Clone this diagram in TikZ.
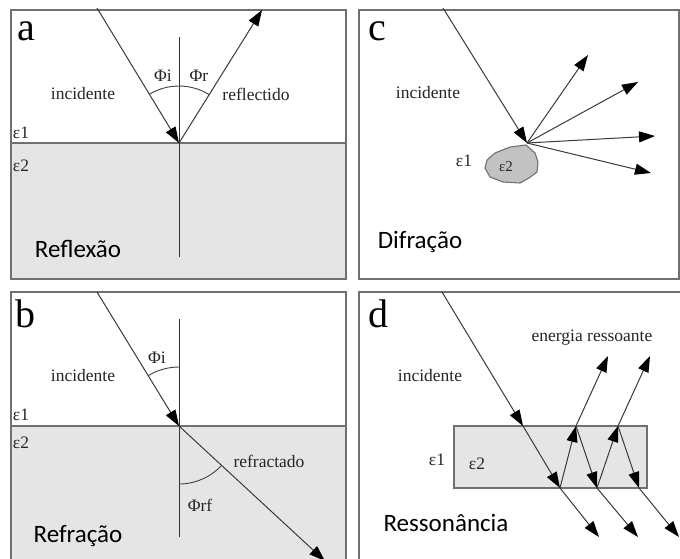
\documentclass[tikz,border=0pt]{standalone}
\usepackage{fontspec}
\setmainfont{Liberation Serif}
\newfontfamily\capfont{Carlito}
\usetikzlibrary{arrows.meta}
\definecolor{panelgray}{HTML}{707070}
\definecolor{raygray}{HTML}{3A3A3A}
\definecolor{mediumfill}{HTML}{E5E5E5}
\definecolor{blobfill}{HTML}{C2C2C2}
\definecolor{labelgray}{HTML}{262626}
\begin{document}
\begin{tikzpicture}[x=1pt,y=-1pt,
  panel/.style={draw=panelgray, line width=1.4pt},
  ray/.style={draw=raygray, line width=1pt, -{Triangle[length=16pt,width=11pt,color=black]}},
  normal/.style={draw=black!80, line width=0.9pt},
  anglearc/.style={draw=black!75, line width=0.9pt},
  lbl/.style={font=\fontsize{17.5}{20}\selectfont, text=labelgray, inner sep=0pt},
  letter/.style={font=\fontsize{40}{42}\selectfont, inner sep=0pt},
  caption/.style={font=\capfont\fontsize{25}{28}\selectfont, inner sep=0pt},
]
\useasboundingbox (0,0) rectangle (680,558);
\clip (0,0) rectangle (680,558);
\fill[white] (0,0) rectangle (680,558);

% ---------- panel a: reflection ----------
\fill[mediumfill] (11,143) rectangle (346,279);
\draw[panel] (11,10) rectangle (346,279);
\coordinate (aP) at (179,143);
\coordinate (aL) at (11,143);
\coordinate (aR) at (346,143);
\coordinate (aNt) at (179,37);
\coordinate (aNb) at (179,257);
\coordinate (aIn) at (97,8);
\coordinate (aOut) at (262,10);
\draw[panelgray, line width=1.2pt] (aL) -- (aR);
\draw[normal] (aNt) -- (aNb);
\draw[ray] (aIn) -- (aP);
\draw[ray] (aP) -- (aOut);
\draw[anglearc] ([shift={(-121.5:57)}]aP) arc[start angle=-121.5, end angle=-58.2, radius=57];
\node[letter] (la) at (26,31) {a};
\node[lbl] (aphi) at (163,76) {Φi};
\node[lbl] (aphr) at (199,76) {Φr};
\node[lbl] (ainc) at (83,94) {incidente};
\node[lbl] (aref) at (256,94) {reflectido};
\node[lbl] (ae1) at (21,133) {ε1};
\node[lbl] (ae2) at (21,166) {ε2};
\node[caption] (acap) at (78,249) {Reflexão};

% ---------- panel b: refraction ----------
\fill[mediumfill] (11,426) rectangle (346,562);
\draw[panel] (11,292) rectangle (346,562);
\coordinate (bP) at (179,426);
\coordinate (bL) at (11,426);
\coordinate (bR) at (346,426);
\coordinate (bNt) at (179,319);
\coordinate (bNb) at (179,537);
\coordinate (bIn) at (97,292);
\coordinate (bOut) at (325,561);
\draw[panelgray, line width=1.2pt] (bL) -- (bR);
\draw[normal] (bNt) -- (bNb);
\draw[ray] (bIn) -- (bP);
\draw[ray] (bP) -- (bOut);
\draw[anglearc] ([shift={(-121.5:59)}]bP) arc[start angle=-121.5, end angle=-90, radius=59];
\draw[anglearc] ([shift={(42.7:58)}]bP) arc[start angle=42.7, end angle=90, radius=58];
\node[letter] (lb) at (26,314) {b};
\node[lbl] (bphi) at (157,358) {Φi};
\node[lbl] (binc) at (83,376) {incidente};
\node[lbl] (be1) at (21,415) {ε1};
\node[lbl] (be2) at (21,443) {ε2};
\node[lbl] (bref) at (269,461) {refractado};
\node[lbl] (bphrf) at (200,505) {Φrf};
\node[caption] (bcap) at (78,536) {Refração};

% ---------- panel c: diffraction ----------
\draw[panel] (359,10) rectangle (679,279);
\coordinate (cP) at (527,143);
\coordinate (cIn) at (443,8);
\coordinate (cO1) at (588,55);
\coordinate (cO2) at (638,82);
\coordinate (cO3) at (655,136);
\coordinate (cO4) at (651,173);
\draw[panelgray, line width=1.1pt, fill=blobfill]
  (526,145) -- (535,153) -- (538,162) -- (537,172) -- (529,178) -- (520,183)
  -- (503,182) -- (490,177) -- (485,168) -- (487,160) -- (495,153) -- (510,147) -- cycle;
\draw[ray] (cIn) -- (cP);
\foreach \t in {cO1,cO2,cO3,cO4} \draw[ray] (cP) -- (\t);
\node[letter] (lc) at (377,31) {c};
\node[lbl] (cinc) at (428,93) {incidente};
\node[lbl] (ce1) at (464,161) {ε1};
\node[lbl, font=\fontsize{15}{18}\selectfont] (ce2) at (506,167) {ε2};
\node[caption] (ccap) at (420,242) {Difração};

% ---------- panel d: resonance ----------
\draw[panel] (359,292) rectangle (681,562);
\draw[panelgray, line width=1.2pt, fill=mediumfill] (454,426) rectangle (647,488);
\coordinate (dIn) at (442,292);
\coordinate (dT0) at (523,426);
\coordinate (dB1) at (560,488);
\coordinate (dT1) at (576,426);
\coordinate (dB2) at (597,488);
\coordinate (dT2) at (618,426);
\coordinate (dB3) at (639,488);
\coordinate (dU1) at (608,356);
\coordinate (dU2) at (650,356);
\coordinate (dX1) at (599,537);
\coordinate (dX2) at (638,537);
\coordinate (dX3) at (679,537);
\draw[ray] (dIn) -- (dT0);
\draw[ray] (dT0) -- (dB1);
\draw[ray] (dB1) -- (dT1);
\draw[ray] (dT1) -- (dU1);
\draw[ray] (dT1) -- (dB2);
\draw[ray] (dB2) -- (dT2);
\draw[ray] (dT2) -- (dU2);
\draw[ray] (dT2) -- (dB3);
\draw[ray] (dB1) -- (dX1);
\draw[ray] (dB2) -- (dX2);
\draw[ray] (dB3) -- (dX3);
\node[letter] (ld) at (378,314) {d};
\node[lbl] (den) at (592,338) {energia ressoante};
\node[lbl] (dinc) at (430,376) {incidente};
\node[lbl] (de1) at (437,460) {ε1};
\node[lbl] (de2) at (477,464) {ε2};
\node[caption] (dcap) at (446,523) {Ressonância};
\end{tikzpicture}
\end{document}
